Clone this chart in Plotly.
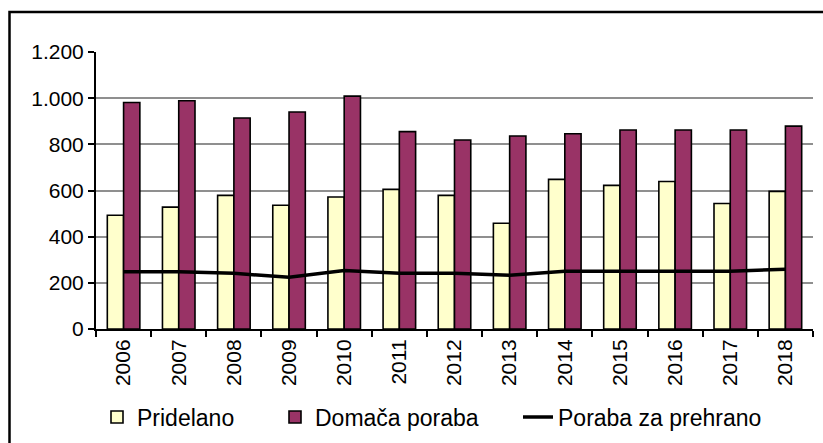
import plotly.graph_objects as go

years = ["2006", "2007", "2008", "2009", "2010", "2011", "2012",
         "2013", "2014", "2015", "2016", "2017", "2018"]
pridelano = [493, 528, 579, 536, 572, 605, 579, 458, 648, 622, 639, 544, 596]
domaca_poraba = [981, 989, 914, 940, 1009, 855, 819, 836, 846, 862, 862, 862, 879]
poraba_prehrana = [248, 248, 241, 224, 253, 241, 241, 233, 250, 250, 250, 250, 259]

y_tickvals = [0, 200, 400, 600, 800, 1000, 1200]
y_ticktext = ["0", "200", "400", "600", "800", "1.000", "1.200"]

FONT = "Liberation Sans, Arial, sans-serif"

W, H = 823, 443
L, R, T, B = 96, 10, 52, 114
PW = W - L - R
PH = H - T - B


def px_x(x):
    return (x - L) / PW


def px_y(y):
    return (H - B - y) / PH


fig = go.Figure()
fig.add_trace(go.Bar(
    x=years, y=pridelano, name="Pridelano",
    marker=dict(color="#FFFFCC", line=dict(color="black", width=1.6)),
    legend="legend",
))
fig.add_trace(go.Bar(
    x=years, y=domaca_poraba, name="Domača poraba",
    marker=dict(color="#993366", line=dict(color="black", width=1.6)),
    legend="legend2",
))
fig.add_trace(go.Scatter(
    x=years, y=poraba_prehrana, name="Poraba za prehrano",
    mode="lines", line=dict(color="black", width=3.5),
    legend="legend3",
))

leg_common = dict(orientation="h", yanchor="middle", xanchor="left",
                  xref="container", yref="container",
                  font=dict(family=FONT, size=23, color="black"),
                  bgcolor="rgba(0,0,0,0)", borderwidth=0)
LEG_Y = 1 - 417 / H

fig.update_layout(
    width=W, height=H,
    margin=dict(l=L, r=R, t=T, b=B, pad=0, autoexpand=False),
    paper_bgcolor="white", plot_bgcolor="white",
    barmode="group", bargap=0.41, bargroupgap=0,
    font=dict(family=FONT, size=21, color="black"),
    showlegend=True,
    legend=dict(x=97 / W, y=LEG_Y, **leg_common),
    legend2=dict(x=275 / W, y=LEG_Y, **leg_common),
    legend3=dict(x=518 / W, y=LEG_Y, **leg_common),
    xaxis=dict(
        type="category", range=[-0.5, 12.5], automargin=False,
        showline=True, linecolor="black", linewidth=2,
        ticks="outside", ticklen=6, tickwidth=2, tickcolor="black",
        tickson="boundaries", tickangle=-90,
        tickfont=dict(family=FONT, size=21, color="black"),
        showgrid=False, zeroline=False,
    ),
    yaxis=dict(
        range=[0, 1200], tickmode="array", automargin=False,
        tickvals=y_tickvals, ticktext=y_ticktext,
        showline=True, linecolor="black", linewidth=2,
        ticks="outside", ticklen=6, tickwidth=2, tickcolor="black",
        tickfont=dict(family=FONT, size=21, color="black"),
        showgrid=True, gridcolor="#8f8f8f", gridwidth=2,
        zeroline=False,
    ),
    shapes=[dict(
        type="rect", xref="paper", yref="paper",
        x0=px_x(9.5), x1=px_x(840), y0=px_y(470), y1=px_y(12),
        line=dict(color="black", width=2.5), fillcolor="rgba(0,0,0,0)",
        layer="above",
    )],
)

fig.write_html(
    "out.html",
    config={"displayModeBar": False},
    post_script="document.body.style.margin='0';document.body.style.overflow='hidden';",
)
